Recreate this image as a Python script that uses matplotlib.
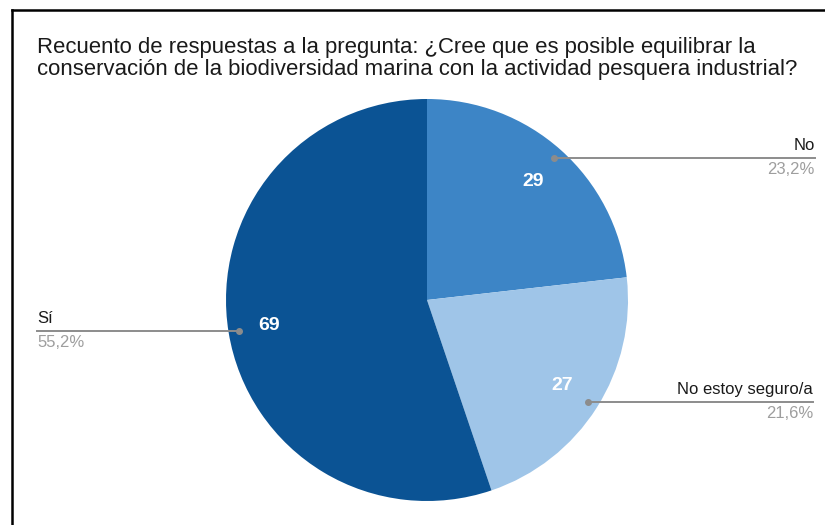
#!/usr/bin/env python3
import numpy as np
import matplotlib
matplotlib.use("Agg")
import matplotlib.pyplot as plt
from matplotlib.lines import Line2D

# ---------- Data ----------
categories = ["No", "No estoy seguro/a", "Sí"]
counts = [29, 27, 69]
percent_labels = ["23,2%", "21,6%", "55,2%"]
colors = ["#3d85c6", "#9fc5e8", "#0b5394"]
title = ("Recuento de respuestas a la pregunta: ¿Cree que es posible equilibrar la\n"
         "conservación de la biodiversidad marina con la actividad pesquera industrial?")

plt.rcParams["font.family"] = ["Liberation Sans", "DejaVu Sans"]

W, H = 825, 525
fig = plt.figure(figsize=(W / 100, H / 100), dpi=100)

# pie centre (427, 300) px, radius 201 px
cx, cy, r = 427, 300, 201
ax = fig.add_axes([(cx - r) / W, (H - cy - r) / H, 2 * r / W, 2 * r / H])

wedges, _ = ax.pie(
    counts,
    colors=colors,
    startangle=90,
    counterclock=False,
    radius=1,
    wedgeprops=dict(linewidth=0),
)
ax.set_xlim(-1, 1)
ax.set_ylim(-1, 1)
ax.set_aspect("equal")
ax.axis("off")

# ---------- Labels ----------
label_x = {"No": 1.93, "No estoy seguro/a": 1.92, "Sí": -1.94}
for w, cat, n, pct in zip(wedges, categories, counts, percent_labels):
    mid = np.deg2rad((w.theta1 + w.theta2) / 2)
    # value inside
    ax.text(0.795 * np.cos(mid), 0.79 * np.sin(mid), str(n),
            color="white", fontsize=14, fontweight="bold",
            ha="center", va="center")
    # leader line with dot
    dx, dy = 0.95 * np.cos(mid), 0.95 * np.sin(mid)
    tx = label_x[cat]
    ax.plot([dx, tx], [dy, dy], color="#8c8c8c", linewidth=1.4,
            clip_on=False, zorder=3)
    ax.plot([dx], [dy], marker="o", markersize=4, color="#8c8c8c",
            clip_on=False, zorder=4)
    ha = "right" if tx > 0 else "left"
    ax.text(tx, dy + 0.025, cat, ha=ha, va="bottom", fontsize=12,
            color="#1a1a1a", clip_on=False)
    ax.text(tx, dy - 0.02, pct, ha=ha, va="top", fontsize=12,
            color="#9e9e9e", clip_on=False)

# ---------- Title ----------
fig.text(37 / W, 1 - 37 / H, title, ha="left", va="top",
         fontsize=15.9, color="#1a1a1a", linespacing=1.05)

# ---------- Screenshot frame (top & left only) ----------
fig.add_artist(Line2D([12 / W, 1], [1 - 9.5 / H, 1 - 9.5 / H],
                      color="black", linewidth=1.8, transform=fig.transFigure))
fig.add_artist(Line2D([12 / W, 12 / W], [0, 1 - 9.5 / H],
                      color="black", linewidth=1.8, transform=fig.transFigure))

fig.savefig("out.png", dpi=100)
